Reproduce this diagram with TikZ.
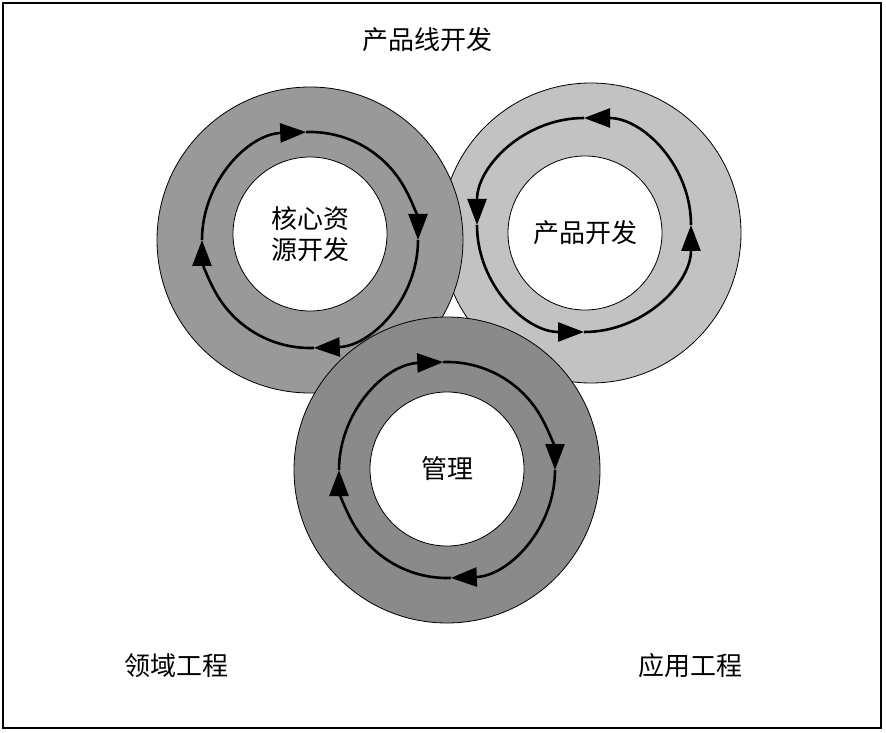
\documentclass[tikz,border=0pt]{standalone}
\usepackage{fontspec}
\newfontfamily\cjk{Noto Sans CJK SC}
\usetikzlibrary{arrows.meta, positioning}
\definecolor{coregray}{HTML}{999999}
\definecolor{prodgray}{HTML}{C2C2C2}
\definecolor{mgmtgray}{HTML}{8A8A8A}

\begin{document}
\begin{tikzpicture}[x=1pt, y=1pt, >={Triangle[length=26pt, width=19pt]},
  ringbox/.style={circle, fill=#1, draw=black, line width=0.8pt, inner sep=0pt,
                  minimum size=304pt},
  holebox/.style={circle, fill=white, draw=black, line width=0.8pt, inner sep=0pt,
                  minimum size=154pt, align=center, font=\cjk\fontsize{26}{31}\selectfont},
  cyc/.style={black, line width=2.6pt, ->},
  label/.style={font=\cjk\fontsize{26}{31}\selectfont, text=black}
]

% Frame
\useasboundingbox (0,0) rectangle (886,732);
\draw[line width=1.6pt] (3,4) rectangle (881,729);

% Product development ring (lowest layer)
\node[ringbox=prodgray, minimum size=300pt] (prod) at (591,499) {};
\node[holebox] (prodhole) at (585,499) {产品开发};
\coordinate (prodcyc) at (584,507);
\draw[cyc] ([shift={(0:107)}]prodcyc) arc[start angle=0, end angle=90, radius=107];
\draw[cyc] ([shift={(90:107)}]prodcyc) arc[start angle=90, end angle=180, radius=107];
\draw[cyc] ([shift={(180:107)}]prodcyc) arc[start angle=180, end angle=270, radius=107];
\draw[cyc] ([shift={(270:107)}]prodcyc) arc[start angle=270, end angle=360, radius=107];

% Core asset ring
\node[ringbox=coregray, minimum size=306pt] (core) at (310,492) {};
\node[holebox] (corehole) at (310,498) {核心资\\源开发};
\draw[cyc] ([shift={(180:108)}]core) arc[start angle=180, end angle=92, radius=108];
\draw[cyc] ([shift={(92:108)}]core) arc[start angle=92, end angle=0, radius=108];
\draw[cyc] ([shift={(0:108)}]core) arc[start angle=0, end angle=-88, radius=108];
\draw[cyc] ([shift={(-88:108)}]core) arc[start angle=-88, end angle=-180, radius=108];

% Management ring (top layer)
\node[ringbox=mgmtgray, minimum size=306pt] (mgmt) at (447,262) {};
\node[holebox] (mgmthole) at (447,263) {管理};
\draw[cyc] ([shift={(180:108)}]mgmt) arc[start angle=180, end angle=92, radius=108];
\draw[cyc] ([shift={(92:108)}]mgmt) arc[start angle=92, end angle=0, radius=108];
\draw[cyc] ([shift={(0:108)}]mgmt) arc[start angle=0, end angle=-88, radius=108];
\draw[cyc] ([shift={(-88:108)}]mgmt) arc[start angle=-88, end angle=-180, radius=108];

% Outer labels
\node[label] (pline) at (427,692) {产品线开发};
\node[label] (domain) at (176,66) {领域工程};
\node[label] (app) at (690,66) {应用工程};

\end{tikzpicture}
\end{document}
